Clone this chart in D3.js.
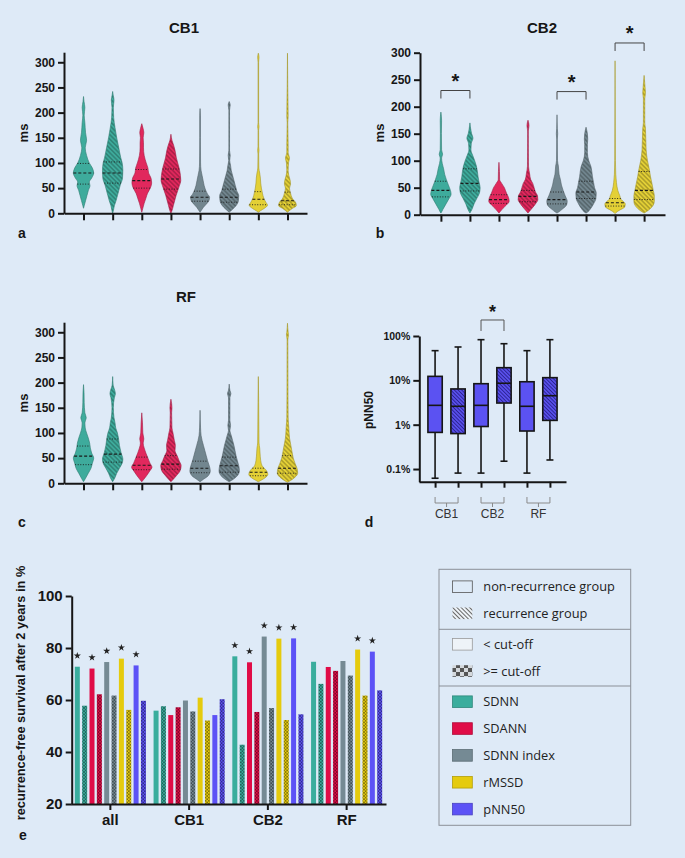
<!DOCTYPE html>
<html><head><meta charset="utf-8">
<script src="https://cdn.jsdelivr.net/npm/d3@7"></script>
<style>body{margin:0;background:#deeaf7;} svg{display:block}</style>
</head><body><svg id="c" width="685" height="858"></svg>
<script>
// ---------------- DATA ----------------
const violinLabels = ["SDNN non-rec","SDNN rec","SDANN non-rec","SDANN rec","SDNN index non-rec","SDNN index rec","rMSSD non-rec","rMSSD rec"];
const msTicks = [0,50,100,150,200,250,300];
// violin profiles: [ms, relative density]
const cb1Profiles = [
 [[10,0],[15,2],[25,6],[35,10],[45,14],[55,19],[62,17],[70,24],[80,30],[90,26],[100,17],[115,9],[130,5],[145,9],[160,6],[180,4],[195,2],[210,4],[222,1.5],[232,0]],
 [[0,0],[5,2],[15,5],[25,10],[35,14],[45,18],[55,22],[70,29],[85,30],[100,28],[110,24],[130,18],[150,12],[170,7],[190,3],[210,2],[225,4],[235,1.5],[242,0]],
 [[2,0],[10,3],[20,7],[30,12],[40,17],[50,25],[60,29],[70,27],[80,20],[90,18],[100,13],[115,7],[130,5],[140,5],[150,4],[160,6],[168,4],[178,0]],
 [[0,0],[5,3],[15,7],[25,11],[35,15],[45,20],[55,25],[65,29],[75,28],[90,24],[100,20],[110,16],[125,12],[135,8],[145,3],[157,0]],
 [[2,0],[5,3],[12,10],[18,18],[25,26],[32,28],[38,22],[45,17],[55,12],[65,9],[75,6],[85,3],[100,1.5],[150,1],[195,1],[208,0]],
 [[2,0],[8,10],[15,20],[25,27],[35,28],[45,22],[55,18],[65,14],[75,10],[85,6],[95,4],[105,1.5],[115,3],[125,1],[205,1],[215,3],[222,0]],
 [[2,0],[5,6],[10,18],[16,27],[22,22],[30,16],[40,12],[50,9],[60,7],[70,6],[80,4],[90,1.5],[118,1],[125,2],[132,1],[165,0.8],[172,2],[180,0.8],[300,0.8],[310,2],[318,0]],
 [[2,0],[5,5],[10,15],[15,26],[20,25],[30,14],[40,9],[50,6],[58,9],[65,8],[75,4],[85,2],[100,3],[110,6],[120,2],[135,2],[180,0.8],[192,2],[250,0.8],[318,0]]
];
const cb1Quartiles = [[58,80,99],[60,80,102],[50,65,87],[48,68,88],[24,32,44],[22,32,48],[17,28,43],[17,25,42]];

const cb2Profiles = [
 [[3,0],[5,2],[10,6],[20,15],[30,24],[38,30],[45,28],[55,22],[65,16],[75,11],[85,8],[95,4],[105,2],[112,5],[120,2],[150,1.5],[175,2],[190,0]],
 [[3,0],[10,6],[20,12],[30,20],[40,28],[50,30],[60,27],[70,24],[80,22],[90,19],[100,14],[110,8],[120,3],[132,4],[142,9],[150,5],[160,2],[170,0]],
 [[3,0],[6,4],[12,12],[18,22],[25,30],[32,28],[40,22],[50,16],[58,8],[65,2],[80,1.5],[97,0]],
 [[3,0],[6,4],[12,12],[20,22],[28,29],[35,28],[42,22],[50,18],[58,14],[65,8],[75,5],[90,1.5],[155,1],[165,3],[175,0]],
 [[3,0],[5,5],[10,15],[18,28],[25,30],[35,24],[45,18],[55,13],[65,10],[75,6],[90,4],[100,1.5],[140,1],[150,2],[160,1],[185,0]],
 [[3,0],[5,5],[10,12],[20,22],[30,29],[40,30],[50,25],[60,22],[70,19],[80,17],[90,14],[100,8],[115,4],[130,4],[140,5],[150,4],[162,0]],
 [[2,0],[4,3],[8,12],[14,28],[20,30],[28,18],[35,14],[45,8],[60,4],[75,2],[100,1],[285,0]],
 [[3,0],[8,12],[15,24],[25,30],[35,30],[45,27],[55,24],[70,19],[85,15],[100,10],[120,6],[140,5],[160,4],[170,2],[215,2],[225,4],[235,3],[258,0]]
];
const cb2Quartiles = [[33,45,62],[44,58,85],[21,28,37],[24,34,45],[20,28,42],[30,42,62],[16,22,30],[28,45,80]];
const cb2Significance = [[0,1,230],[4,5,228],[6,7,318]];

const rfProfiles = [
 [[3,0],[10,6],[20,14],[30,22],[40,26],[50,30],[60,24],[70,20],[80,18],[90,14],[100,9],[110,5],[120,4],[130,8],[140,4],[160,2],[180,1.5],[196,0]],
 [[3,0],[10,6],[20,12],[30,20],[40,28],[48,30],[60,25],[75,20],[90,17],[100,14],[110,9],[120,7],[130,4],[150,2],[170,5],[178,8],[185,6],[195,1.5],[212,0]],
 [[3,0],[8,6],[15,14],[25,24],[32,30],[40,24],[50,18],[60,12],[70,7],[80,4],[88,6],[100,3],[120,2],[140,0]],
 [[3,0],[8,7],[15,16],[25,27],[35,30],[45,24],[55,18],[65,12],[75,13],[85,10],[100,6],[110,3],[140,2],[150,3],[167,0]],
 [[3,0],[8,10],[15,24],[25,30],[35,27],[45,22],[55,18],[65,14],[75,10],[85,6],[95,3],[110,1.5],[145,0]],
 [[3,0],[8,12],[15,24],[25,30],[35,28],[45,24],[55,20],[65,17],[75,14],[85,10],[95,6],[105,2],[115,4],[125,2],[170,2],[178,5],[185,2],[197,0]],
 [[3,0],[6,8],[12,22],[18,28],[25,24],[35,11],[45,7],[60,5],[70,4],[80,2],[110,1.5],[160,1],[212,0]],
 [[2,0],[5,8],[12,22],[20,30],[30,28],[40,22],[50,17],[60,14],[75,10],[90,6],[110,4],[130,2],[170,1.5],[285,1],[295,3],[300,2],[318,0]]
];
const rfQuartiles = [[37,54,74],[42,58,88],[27,36,52],[28,38,55],[21,30,44],[22,35,52],[15,22,30],[20,30,55]];

// panel d: pNN50 box plots (percent)
const boxLabels = ["CB1 non-rec","CB1 rec","CB2 non-rec","CB2 rec","RF non-rec","RF rec"];
const boxMin = [0.062, 0.081, 0.081, 0.15, 0.081, 0.16];
const boxQ1  = [0.67, 0.63, 0.91, 3.08, 0.72, 1.25];
const boxMed = [2.73, 2.6, 2.73, 8.6, 2.6, 4.5];
const boxQ3  = [12.3, 6.4, 8.4, 19.3, 9.3, 11.5];
const boxMax = [46.7, 56.5, 82.6, 67, 46.7, 82.6];
const pnnTicks = [0.1, 1, 10, 100];
const pnnTickLabels = ["0.1%","1%","10%","100%"];
const boxGroups = ["CB1","CB2","RF"];
const boxSignificance = [[2,3,95]];

// panel e: recurrence-free survival after 2 years (%)
const survGroups = ["all","CB1","CB2","RF"];
const metrics = ["SDNN","SDANN","SDNN index","rMSSD","pNN50"];
const survBelowAll = [72.8, 72.1, 74.6, 75.9, 73.3];
const survAboveAll = [57.8, 62.2, 61.7, 56.2, 59.7];
const survBelowCB1 = [55.9, 54.2, 59.8, 60.9, 54.2];
const survAboveCB1 = [57.6, 57.2, 55.6, 52.1, 60.3];
const survBelowCB2 = [76.8, 74.5, 84.4, 83.6, 83.7];
const survAboveCB2 = [42.8, 55.4, 56.9, 52.3, 54.5];
const survBelowRF  = [74.7, 72.7, 75.0, 79.4, 78.6];
const survAboveRF  = [66.2, 71.2, 69.4, 61.7, 63.7];
const sigAll = [1,1,1,1,1];
const sigCB1 = [0,0,0,0,0];
const sigCB2 = [1,1,1,1,1];
const sigRF  = [0,0,0,1,1];
const survTicks = [20,40,60,80,100];

// ---------------- STYLE ----------------
const BG = "#deeaf7";
const AX = "#161616";
const FONT = "Liberation Sans, Arial, sans-serif";
const violinColors = ["#3eab9c","#3eab9c","#e1285d","#e1285d","#72868f","#72868f","#e3d036","#e3d036"];
const barColors = ["#3aad9d","#e00c47","#758a94","#e5cb0e","#5c52f6"];
const boxColor = "#5b52f2";

const svg = d3.select("#c");
svg.append("rect").attr("width",685).attr("height",858).attr("fill",BG);
const defs = svg.append("defs");

function hatch(id, color, line, sp, sw){
  const p = defs.append("pattern").attr("id",id).attr("patternUnits","userSpaceOnUse")
    .attr("width",sp).attr("height",sp).attr("patternTransform","rotate(-45)");
  p.append("rect").attr("width",sp).attr("height",sp).attr("fill",color);
  p.append("line").attr("x1",sp/2).attr("y1",0).attr("x2",sp/2).attr("y2",sp).attr("stroke",line).attr("stroke-width",sw);
}
function checker(id, color, dark, c){
  const p = defs.append("pattern").attr("id",id).attr("patternUnits","userSpaceOnUse")
    .attr("width",2*c).attr("height",2*c);
  p.append("rect").attr("width",2*c).attr("height",2*c).attr("fill",color);
  p.append("rect").attr("width",c).attr("height",c).attr("fill",dark);
  p.append("rect").attr("x",c).attr("y",c).attr("width",c).attr("height",c).attr("fill",dark);
}
violinColors.forEach((c,i)=>{ if(i%2) hatch("vh"+i, c, d3.color(c).darker(1.1), 3.2, 1.1); });
hatch("boxh", boxColor, "#2a2290", 2.6, 1);
barColors.forEach((c,i)=> checker("ck"+i, c, d3.color(c).darker(1.6), 1.6));
checker("legck", "#d4d8dc", "#555", 4);
hatch("leghatch", "#eef3f8", "#666", 3, 1);

function styleAxis(g, size){
  g.attr("font-family",FONT).attr("font-weight","bold").attr("font-size",size);
  g.selectAll(".domain").attr("stroke",AX).attr("stroke-width",2);
  g.selectAll(".tick line").attr("stroke",AX).attr("stroke-width",2);
  g.selectAll(".tick text").attr("fill",AX);
}
function text(x,y,s,size,opts={}){
  const t = svg.append("text").attr("x",x).attr("y",y).text(s)
    .attr("font-family",opts.family||FONT).attr("font-weight",opts.weight||"bold")
    .attr("font-size",size).attr("fill",opts.fill||AX)
    .attr("text-anchor",opts.anchor||"middle");
  if(opts.rotate) t.attr("transform",`rotate(-90,${x},${y})`);
  return t;
}
function widthAt(prof, v){
  const p = prof.slice().sort((a,b)=>a[0]-b[0]);
  for(let i=1;i<p.length;i++){
    if(v<=p[i][0]){ const t=(v-p[i-1][0])/(p[i][0]-p[i-1][0]); return p[i-1][1]+t*(p[i][1]-p[i-1][1]); }
  }
  return 0;
}

function violinPanel(profiles, quartiles, x, y, yTop, title, titlePos, msPos){
  const w = d3.scaleLinear().domain([0,30]).range([0,10.2]);
  const g = svg.append("g");
  profiles.forEach((prof,i)=>{
    const cx = x(i);
    const pts = prof.slice().sort((a,b)=>a[0]-b[0]);
    const area = d3.area().curve(d3.curveMonotoneY)
      .y(d=>y(d[0])).x0(d=>cx-w(d[1])).x1(d=>cx+w(d[1]));
    g.append("path").attr("d",area(pts))
      .attr("fill", i%2 ? `url(#vh${i})` : violinColors[i])
      .attr("stroke", d3.color(violinColors[i]).darker(0.9)).attr("stroke-width",0.6);
    quartiles[i].forEach((q,k)=>{
      const hw = w(widthAt(prof,q));
      g.append("line").attr("x1",cx-hw).attr("x2",cx+hw).attr("y1",y(q)).attr("y2",y(q))
        .attr("stroke","#1a1a1a").attr("stroke-width", k===1?1.1:0.9)
        .attr("stroke-dasharray", k===1 ? "3,2" : "1,1.6");
    });
  });
  const ya = svg.append("g").attr("transform",`translate(${x.range()[0]},0)`)
    .call(d3.axisLeft(y).tickValues(msTicks).tickSize(6).tickSizeOuter(0));
  styleAxis(ya, 12);
  const xa = svg.append("g").attr("transform",`translate(0,${y(0)})`)
    .call(d3.axisBottom(x).tickSize(7).tickSizeOuter(0).tickFormat(""));
  styleAxis(xa, 12);
  text(titlePos[0], titlePos[1], title, 15);
  text(msPos[0], msPos[1], "ms", 13, {rotate:true});
}

const idx8 = d3.range(8);
// panel a
const xA = d3.scalePoint().domain(idx8).range([64,307]).padding(0.67);
const yA = d3.scaleLinear().domain([0,320]).range([213.3,52.2]);
violinPanel(cb1Profiles, cb1Quartiles, xA, yA, 320, "CB1", [184,33], [28,133]);
// panel b
const xB = d3.scalePoint().domain(idx8).range([420,665]).padding(0.72);
const yB = d3.scaleLinear().domain([0,300]).range([214.7,52.7]);
violinPanel(cb2Profiles, cb2Quartiles, xB, yB, 300, "CB2", [542,33], [384,133]);
cb2Significance.forEach(([a,b,v])=>{
  const yy = yB(v);
  svg.append("path").attr("d",`M${xB(a)},${yy+8}V${yy}H${xB(b)}V${yy+8}`)
    .attr("fill","none").attr("stroke","#444").attr("stroke-width",1);
  text((xB(a)+xB(b))/2, yy-3, "*", 20);
});
// panel c
const xC = d3.scalePoint().domain(idx8).range([64,307]).padding(0.67);
const yC = d3.scaleLinear().domain([0,320]).range([483.3,322.2]);
violinPanel(rfProfiles, rfQuartiles, xC, yC, 320, "RF", [186,302], [28,403]);

// panel d
const xD = d3.scalePoint().domain(d3.range(6)).range([419,566]).padding(0.7);
const yD = d3.scaleLog().domain([0.0518,100]).range([481.7,336]);
const bw = 14.3;
d3.range(6).forEach(i=>{
  const cx = xD(i);
  const g = svg.append("g").attr("stroke",AX).attr("stroke-width",1.6);
  g.append("line").attr("x1",cx).attr("x2",cx).attr("y1",yD(boxMin[i])).attr("y2",yD(boxQ1[i]));
  g.append("line").attr("x1",cx).attr("x2",cx).attr("y1",yD(boxQ3[i])).attr("y2",yD(boxMax[i]));
  g.append("line").attr("x1",cx-3.5).attr("x2",cx+3.5).attr("y1",yD(boxMin[i])).attr("y2",yD(boxMin[i]));
  g.append("line").attr("x1",cx-3.5).attr("x2",cx+3.5).attr("y1",yD(boxMax[i])).attr("y2",yD(boxMax[i]));
  g.append("rect").attr("x",cx-bw/2).attr("width",bw).attr("y",yD(boxQ3[i])).attr("height",yD(boxQ1[i])-yD(boxQ3[i]))
    .attr("fill", i%2 ? "url(#boxh)" : boxColor);
  g.append("line").attr("x1",cx-bw/2).attr("x2",cx+bw/2).attr("y1",yD(boxMed[i])).attr("y2",yD(boxMed[i]));
});
const yda = svg.append("g").attr("transform",`translate(419.3,0)`)
  .call(d3.axisLeft(yD).tickValues(pnnTicks).tickFormat((d,i)=>pnnTickLabels[i]).tickSize(6).tickSizeOuter(0));
styleAxis(yda, 10.5);
const xda = svg.append("g").attr("transform",`translate(0,481.7)`)
  .call(d3.axisBottom(xD).tickSize(6).tickSizeOuter(0).tickFormat(""));
styleAxis(xda, 10);
boxSignificance.forEach(([a,b,v])=>{
  const yy = yD(v)-17;
  svg.append("path").attr("d",`M${xD(a)},${yy+11}V${yy}H${xD(b)}V${yy+11}`)
    .attr("fill","none").attr("stroke","#555").attr("stroke-width",1);
  text((xD(a)+xD(b))/2, yy-2, "*", 18);
});
boxGroups.forEach((gname,k)=>{
  const x0 = xD(2*k), x1 = xD(2*k+1), m=(x0+x1)/2;
  svg.append("path").attr("d",`M${x0},497V503H${x1}V497M${m},503V507`)
    .attr("fill","none").attr("stroke","#8a8a8a").attr("stroke-width",1);
  text(m, 518, gname, 12, {weight:"normal", fill:"#333"});
});
text(373, 410, "pNN50", 12, {rotate:true});

// panel e
const xE = d3.scaleBand().domain(survGroups).range([71,386]).paddingInner(0);
const xInner = d3.scaleBand().domain(d3.range(10)).range([0,xE.bandwidth()]).paddingInner(0.32).paddingOuter(0.52);
const yE = d3.scaleLinear().domain([20,100]).range([804,596]);
const below = [survBelowAll, survBelowCB1, survBelowCB2, survBelowRF];
const above = [survAboveAll, survAboveCB1, survAboveCB2, survAboveRF];
const sigs = [sigAll, sigCB1, sigCB2, sigRF];
const starPath = d3.symbol().type(d3.symbolStar).size(16)();
survGroups.forEach((gname,gi)=>{
  metrics.forEach((m,mi)=>{
    const xb = xE(gname)+xInner(2*mi), xa = xE(gname)+xInner(2*mi+1);
    svg.append("rect").attr("x",xb).attr("width",xInner.bandwidth())
      .attr("y",yE(below[gi][mi])).attr("height",yE(20)-yE(below[gi][mi])).attr("fill",barColors[mi]);
    svg.append("rect").attr("x",xa).attr("width",xInner.bandwidth())
      .attr("y",yE(above[gi][mi])).attr("height",yE(20)-yE(above[gi][mi])).attr("fill",`url(#ck${mi})`);
    if(sigs[gi][mi]){
      svg.append("path").attr("d",starPath)
        .attr("transform",`translate(${xb+xInner.bandwidth()/2},${yE(below[gi][mi])-11})`).attr("fill","#222");
    }
  });
});
const yea = svg.append("g").attr("transform",`translate(71.7,0)`)
  .call(d3.axisLeft(yE).tickValues(survTicks).tickSize(6).tickSizeOuter(0));
styleAxis(yea, 15);
const xea = svg.append("g").attr("transform",`translate(0,804)`)
  .call(d3.axisBottom(xE).tickSize(6).tickSizeOuter(0).tickPadding(4));
styleAxis(xea, 15);
text(25, 693, "recurrence-free survival after 2 years in %", 12.8, {rotate:true});

// panel letters
text(22, 238, "a", 14);
text(380, 238, "b", 14);
text(22, 527, "c", 14);
text(369, 527, "d", 14);
text(23, 840, "e", 14);

// legend
const LF = "Open Sans, Noto Sans, sans-serif";
svg.append("rect").attr("x",439).attr("y",569.3).attr("width",191.7).attr("height",256)
  .attr("fill","none").attr("stroke","#8b9098").attr("stroke-width",1);
[629.3,686].forEach(yy=> svg.append("line").attr("x1",439).attr("x2",630.7).attr("y1",yy).attr("y2",yy)
  .attr("stroke","#8b9098").attr("stroke-width",1));
const legItems = [
  {label:"non-recurrence group", y:586.7, fill:"none", stroke:"#555"},
  {label:"recurrence group", y:613.3, fill:"url(#leghatch)", stroke:"none"},
  {label:"< cut-off", y:644.3, fill:"#eef3f8", stroke:"#999"},
  {label:">= cut-off", y:671, fill:"url(#legck)", stroke:"none"},
].concat(metrics.map((m,i)=>({label:m, y:701.7+i*26.85, fill:barColors[i], stroke:d3.color(barColors[i]).darker(0.7)})));
legItems.forEach(it=>{
  svg.append("rect").attr("x",452.5).attr("y",it.y-5.8).attr("width",19.8).attr("height",11.6)
    .attr("fill",it.fill).attr("stroke",it.stroke).attr("stroke-width",0.8);
  text(483.3, it.y+4.5, it.label, 12.8, {weight:"normal", family:LF, anchor:"start", fill:"#222"});
});
</script></body></html>
